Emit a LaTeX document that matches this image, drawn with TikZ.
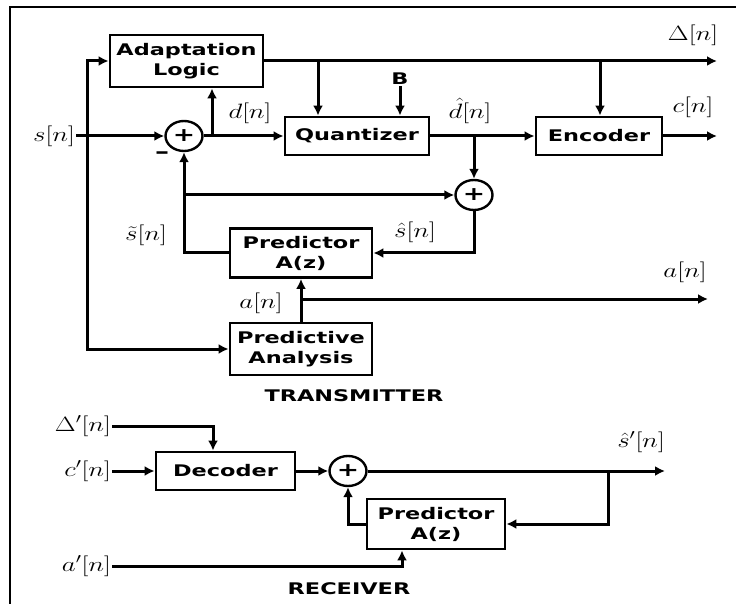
\documentclass[tikz,border=0pt]{standalone}
\usepackage{fontspec}
\usepackage{amsmath,amssymb}
\usepackage{graphicx}
\usetikzlibrary{arrows.meta,shapes.geometric}
\newfontfamily\blockfont[FakeStretch=1.4]{DejaVu Sans}
\newcommand{\sig}[1]{\scalebox{1.3}[1]{$#1$}}

\begin{document}
\begin{tikzpicture}[x=1pt,y=-1pt,
  blk/.style={draw,line width=2.8pt,font=\blockfont\bfseries\fontsize{16}{20}\selectfont,align=center,inner sep=0pt},
  sumnode/.style={draw,ellipse,line width=2.4pt,minimum width=37pt,minimum height=30pt,inner sep=0pt,font=\blockfont\bfseries\fontsize{19}{19}\selectfont},
  lbl/.style={font=\fontsize{22}{26}\selectfont,inner sep=1pt},
  title/.style={font=\blockfont\bfseries\fontsize{16}{20}\selectfont,inner sep=1pt},
  wire/.style={line width=3pt},
  sigarrow/.style={wire,-{Latex[length=10pt,width=10pt]}}]
\useasboundingbox (0,0) rectangle (739,604);
\draw[line width=2pt] (10,604) -- (10,7) -- (736,7);
\node[blk,minimum width=153pt,minimum height=52pt] (adapt) at (186.5,61) {Adaptation\\Logic};
\node[blk,minimum width=144pt,minimum height=38pt] (quant) at (357,136) {Quantizer};
\node[blk,minimum width=126pt,minimum height=38pt] (enc) at (599,136) {Encoder};
\node[blk,minimum width=142pt,minimum height=49pt] (predT) at (301,253) {Predictor\\A(z)};
\node[blk,minimum width=142pt,minimum height=52pt] (anal) at (301,349) {Predictive\\Analysis};
\node[blk,minimum width=139pt,minimum height=38pt] (dec) at (225.5,471) {Decoder};
\node[blk,minimum width=138pt,minimum height=50pt] (predR) at (436,524) {Predictor\\A(z)};
\node[sumnode] (sum1) at (184,136) {+};
\node[sumnode] (sum2) at (474,195) {+};
\node[sumnode] (sum3) at (348,471) {+};
\node[lbl,anchor=east] (sIn) at (76,136) {\sig{s[n]}};
\node[lbl] (dLbl) at (250,113) {\sig{d[n]}};
\node[lbl] (dqLbl) at (470,111) {\sig{\hat{d}[n]}};
\node[lbl] (deltaLbl) at (693,35) {\sig{\Delta[n]}};
\node[lbl] (cLbl) at (693,107) {\sig{c[n]}};
\node[lbl] (stLbl) at (146,235) {\sig{\tilde{s}[n]}};
\node[lbl] (shLbl) at (415,232) {\sig{\hat{s}[n]}};
\node[lbl] (aLbl) at (261,303) {\sig{a[n]}};
\node[lbl] (aOutLbl) at (685,272) {\sig{a[n]}};
\node[title] (bLbl) at (400,79) {B};
\node[title,font=\blockfont\bfseries\fontsize{20}{20}\selectfont] (minus) at (162,155) {\textendash};
\node[title] (txTitle) at (354,396) {TRANSMITTER};
\node[lbl,anchor=east] (deltaIn) at (112,426) {\sig{\Delta'[n]}};
\node[lbl,anchor=east] (cIn) at (112,471) {\sig{c'[n]}};
\node[lbl,anchor=east] (aIn) at (112,566) {\sig{a'[n]}};
\node[lbl] (sOutLbl) at (641,442) {\sig{\hat{s}'[n]}};
\node[title] (rxTitle) at (349,589) {RECEIVER};
\coordinate (fork) at (87,136);
\coordinate (dTap) at (212,136);
\coordinate (qTap) at (318,61);
\coordinate (eTap) at (600,61);
\coordinate (sTap) at (474,136);
\coordinate (aTap) at (301,299);
\coordinate (rTap) at (608,471);
\coordinate (deltaOut) at (717,61);
\coordinate (cOut) at (717,136);
\coordinate (aOut) at (708,299);
\coordinate (sOut) at (665,471);
\draw[sigarrow] (sIn.east) -- (sum1.west);
\draw[sigarrow] (fork) |- (adapt.west);
\draw[sigarrow] (fork) |- (anal.west);
\draw[sigarrow] (sum1.east) -- (quant.west);
\draw[sigarrow] (dTap) -- (dTap |- adapt.south);
\draw[sigarrow] (adapt.east) -- (deltaOut);
\draw[sigarrow] (qTap) -- (qTap |- quant.north);
\draw[sigarrow] (eTap) -- (eTap |- enc.north);
\draw[sigarrow] (bLbl.south) -- (bLbl |- quant.north);
\draw[sigarrow] (quant.east) -- (enc.west);
\draw[sigarrow] (sTap) -- (sum2.north);
\draw[sigarrow] (enc.east) -- (cOut);
\draw[sigarrow] (predT.west) -| (sum1.south);
\draw[sigarrow] (sum1.south |- sum2.west) -- (sum2.west);
\draw[sigarrow] (sum2.south) |- (predT.east);
\draw[sigarrow] (anal.north) -- (predT.south);
\draw[sigarrow] (aTap) -- (aOut);
\draw[sigarrow] (deltaIn.east) -| ([xshift=-12.5pt]dec.north);
\draw[sigarrow] (cIn.east) -- (dec.west);
\draw[sigarrow] (dec.east) -- (sum3.west);
\draw[sigarrow] (sum3.east) -- (sOut);
\draw[sigarrow] (rTap) |- (predR.east);
\draw[sigarrow] (predR.west) -| (sum3.south);
\draw[sigarrow] (aIn.east) -| ([xshift=-34pt]predR.south);
\end{tikzpicture}
\end{document}
